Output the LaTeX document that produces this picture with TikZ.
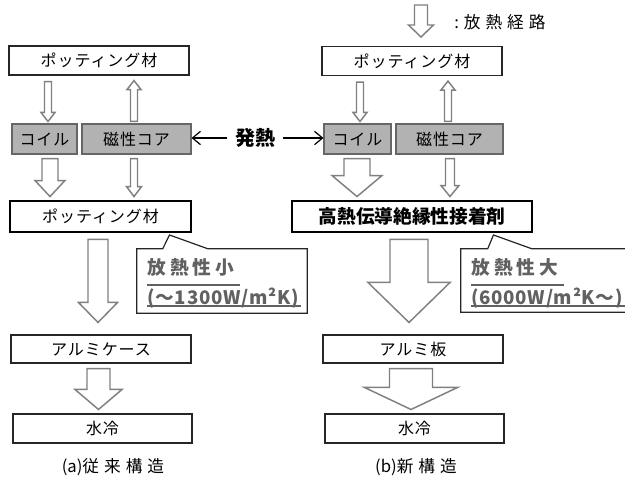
\documentclass[tikz,border=0pt]{standalone}
\usepackage{fontspec}
\setmainfont{Noto Sans CJK JP}
\newfontfamily\jpbox[LetterSpace=6]{Noto Sans CJK JP}
\newfontfamily\jpwide[LetterSpace=30]{Noto Sans CJK JP}
\newfontfamily\jpnote[LetterSpace=22]{Noto Sans CJK JP}
\newfontfamily\jpnum[LetterSpace=4]{Noto Sans CJK JP}
\usetikzlibrary{arrows.meta,calc}
\tikzset{
    plainbox/.style={rectangle, draw=black!85, line width=0.8pt, fill=white, minimum width=135pt, minimum height=21.75pt, inner sep=0pt, font=\jpbox\fontsize{12}{14}\selectfont},
    graybox/.style={plainbox, draw=black!60, fill=black!30, minimum height=22.5pt},
    thickbox/.style={plainbox, draw=black, line width=2.2pt, minimum height=23.25pt},
    flow/.style={draw=black!50, line width=1.1pt, fill=white, line join=miter},
    heatarrow/.style={-{Straight Barb[length=6pt,width=10pt]}, line width=0.9pt},
    callout/.style={draw=black!85, line width=0.9pt, fill=white},
    notetext/.style={text=black!62, anchor=west, inner sep=0pt},
    noteline/.style={draw=black!62, line width=1pt},
    caption/.style={inner sep=0pt, font=\fontsize{12.5}{15}\selectfont}
}
% hollow heat-path arrow: from, to, shaft half, head half, head length (px)
\newcommand{\heatflow}[5]{%
  \draw[flow] let \p1=(#1), \p2=(#2), \n1={\y1>\y2 ? 1 : -1}, \p3=(0pt,{\y2+\n1*#5*0.75pt}) in
    (\x1-#3*0.75pt,\y1) -- (\x1-#3*0.75pt,\y3) -- (\x1-#4*0.75pt,\y3) -- (\x1,\y2)
    -- (\x1+#4*0.75pt,\y3) -- (\x1+#3*0.75pt,\y3) -- (\x1+#3*0.75pt,\y1) -- cycle;}

\begin{document}
\begin{tikzpicture}[x=0.75pt, y=-0.75pt]
\useasboundingbox (0,0) rectangle (625,479);

% (a) conventional
\node[plainbox] (potA) at (99,60.5) {ポッティング材};
\node[graybox, minimum width=48.75pt] (coilA) at (44.5,139) {コイル};
\node[graybox, minimum width=81.75pt] (coreA) at (136.5,139) {磁性コア};
\node[thickbox, minimum width=135.75pt] (adhA) at (100.5,216.5) {ポッティング材};
\node[plainbox, minimum height=21pt] (caseA) at (101,349) {アルミケース};
\node[plainbox, minimum width=134.25pt] (waterA) at (102.5,428.5) {水冷};
\node[caption] (capA) at (113,467) {(a){\jpwide 従来構造}};

% (b) new
\node[plainbox] (potB) at (412,61) {ポッティング材};
\node[graybox, minimum width=50.25pt] (coilB) at (357.5,139) {コイル};
\node[graybox, minimum width=80.25pt] (coreB) at (449.5,139) {磁性コア};
\node[thickbox, minimum width=180pt, font=\bfseries\fontsize{14}{16}\selectfont] (adhB) at (412,216.5) {高熱伝導絶縁性接着剤};
\node[plainbox, minimum height=21pt] (plateB) at (413,349) {アルミ板};
\node[plainbox, minimum width=134.25pt] (waterB) at (414.5,428.5) {水冷};
\node[caption] (capB) at (416,467) {(b){\jpwide 新構造}};

% heat source
\node[font=\bfseries\fontsize{15}{17}\selectfont, inner xsep=6pt] (heat) at (255,138) {発熱};
\draw[heatarrow] (heat.west) -- (heat.west -| coreA.east);
\draw[heatarrow] (heat.east) -- (heat.east -| coilB.west);

% legend
\coordinate (keytop) at (421,5);
\coordinate (keybot) at (421,37);
\heatflow{keytop}{keybot}{6.5}{12.5}{12}
\node[caption, anchor=west, font=\jpwide\fontsize{12.5}{15}\selectfont] (key) at (454,22) {:放熱経路};

% heat paths (a)
\heatflow{$(potA.south)+(-51,6)$}{$(coilA.north)+(0,-2)$}{3.5}{7}{9}
\heatflow{$(coreA.north)+(-2.5,-2)$}{$(potA.south)+(0,5)$}{3.5}{7}{9}
\heatflow{$(coilA.south)+(5.5,4)$}{$(adhA.north)+(0,-3)$}{8}{15}{16}
\heatflow{$(coreA.south)+(-2.5,4)$}{$(adhA.north)+(0,-3)$}{3.5}{7.5}{10}
\heatflow{$(adhA.south)+(-2.5,6)$}{$(caseA.north)+(0,-12)$}{10}{19.5}{20}
\heatflow{$(caseA.south)+(-2.5,5)$}{$(waterA.north)+(0,-4)$}{11.5}{23.5}{20}

% heat paths (b)
\heatflow{$(potB.south)+(-52,6)$}{$(coilB.north)+(0,-2)$}{3.5}{7}{9}
\heatflow{$(coreB.north)+(-1.5,-2)$}{$(potB.south)+(0,5)$}{3.5}{7}{9}
\heatflow{$(coilB.south)+(-0.5,4)$}{$(adhB.north)+(0,-3)$}{13}{25}{21}
\heatflow{$(coreB.south)+(0.5,4)$}{$(adhB.north)+(0,-3)$}{4.5}{9}{11}
\heatflow{$(adhB.south)+(-3,6)$}{$(plateB.north)+(0,-12)$}{19}{41}{40}
\heatflow{$(plateB.south)+(-2,5)$}{$(waterB.north)+(0,-4)$}{21.5}{46.5}{22}

% callouts
\path node[minimum width=127.5pt, minimum height=48pt] (noteA) at (222,281) {};
\coordinate (tipA) at ($(adhA.south east)+(-23,1.5)$);
\draw[callout] (noteA.north west) -- ++(26,0) -- (tipA) -- ($(noteA.north west)+(71,0)$)
  -- (noteA.north east) -- (noteA.south east) -- (noteA.south west) -- cycle;
\node[notetext, font=\jpnote\bfseries\fontsize{14}{16}\selectfont] (noteA1) at (147,267) {放熱性小};
\node[notetext, font=\jpnum\bfseries\fontsize{14}{16}\selectfont] (noteA2) at (147,298) {(～1300W/m²K)};
\draw[noteline] ($(noteA1.west)+(0,18)$) -- ($(noteA1.east)+(5,18)$);
\draw[noteline] ($(noteA2.west)+(0,8)$) -- ($(noteA2.east)+(2,8)$);

\path node[minimum width=134.25pt, minimum height=47.25pt] (noteB) at (550.5,280.5) {};
\coordinate (tipB) at ($(adhB.south east)+(-40,1.5)$);
\draw[callout] (noteB.north west) -- ++(27,0) -- (tipB) -- ($(noteB.north west)+(71,0)$)
  -- (noteB.north east) -- (noteB.south east) -- (noteB.south west) -- cycle;
\node[notetext, font=\jpnote\bfseries\fontsize{14}{16}\selectfont] (noteB1) at (471,267) {放熱性大};
\node[notetext, font=\jpnum\bfseries\fontsize{14}{16}\selectfont] (noteB2) at (471,298) {(6000W/m²K～)};
\draw[noteline] ($(noteB1.west)+(0,18)$) -- ($(noteB1.east)+(5,18)$);
\draw[noteline] ($(noteB2.west)+(0,8)$) -- ($(noteB2.east)+(5,8)$);

\end{tikzpicture}
\end{document}
